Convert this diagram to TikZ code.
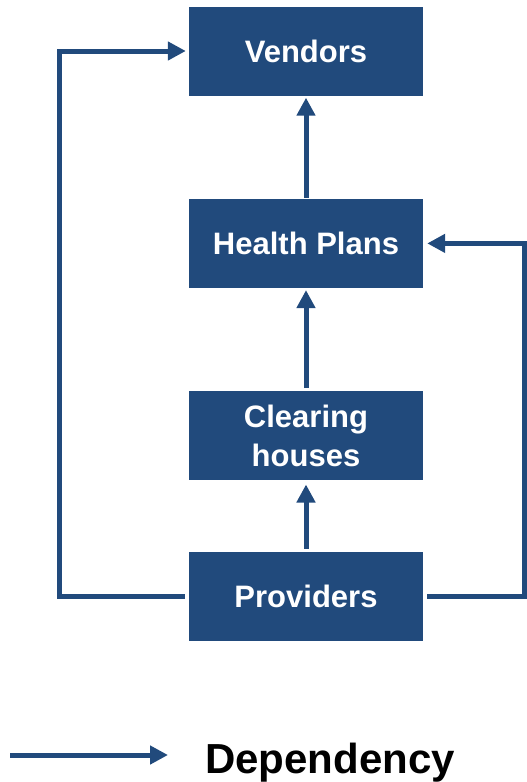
\documentclass[tikz,border=0pt]{standalone}
\usepackage{fontspec}
\setmainfont{Liberation Sans}
\usetikzlibrary{positioning,arrows.meta}
\definecolor{navy}{HTML}{214A7C}

\begin{document}
\begin{tikzpicture}[x=1pt,y=-1pt,
    box/.style={fill=navy, text=white, minimum width=234pt, minimum height=89pt,
      align=center, inner sep=0pt, font=\fontsize{31}{39}\selectfont\bfseries},
    dep/.style={draw=navy, line width=5pt, -{Triangle[length=18pt,width=18pt]}}]
\useasboundingbox (0,0) rectangle (527,782);

\node (vendors) [box] at (306,51) {Vendors};
\node (health-plans) [box, below=103pt of vendors] {Health Plans};
\node (clearing) [box, below=103pt of health-plans] {Clearing\\houses};
\node (providers) [box, below=71pt of clearing] {Providers};

\draw[dep] ([yshift=3pt]providers.north) -- ([yshift=-4pt]clearing.south);
\draw[dep] ([yshift=3pt]clearing.north) -- ([yshift=-2pt]health-plans.south);
\draw[dep] ([yshift=1pt]health-plans.north) -- ([yshift=-2pt]vendors.south);

\draw[dep] ([xshift=-4pt]providers.west) -- ++(-125,0) |- ([xshift=-3pt]vendors.west);
\draw[dep] ([xshift=4pt]providers.east) -- ++(97,0) |- ([xshift=4pt]health-plans.east);

% legend
\coordinate (legend-start) at (10,755);
\coordinate (legend-end) at (168,755);
\draw[dep] (legend-start) -- (legend-end);
\node (legend-text) [anchor=base west, inner sep=0pt,
    font=\fontsize{42}{48}\selectfont\bfseries] at (205,773) {Dependency};
\end{tikzpicture}
\end{document}
